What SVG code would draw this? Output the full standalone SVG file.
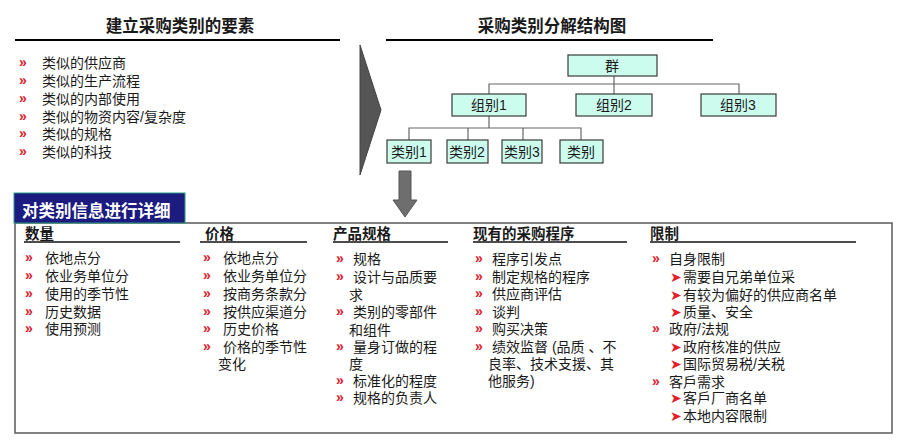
<svg xmlns="http://www.w3.org/2000/svg" width="900" height="444" viewBox="0 0 900 444">
<style>
text{font-family:"Liberation Sans","Noto Sans CJK SC",sans-serif;fill:#1a1a1a}
.t{font-size:16.5px;font-weight:bold;text-anchor:middle}
.i{font-size:14px}
.h{font-size:14.5px;font-weight:bold}
.b{font-family:"Liberation Sans",sans-serif;font-size:14px;font-weight:bold;fill:#e2202c}
.a{font-family:"DejaVu Sans",sans-serif;font-size:14px;fill:#e2202c}
.nb rect{fill:#ccfcee;stroke:#3a3a3a;stroke-width:1.2}
.nb text{font-size:14px;text-anchor:middle}
.rule{stroke:#000;stroke-width:2}
.hl{stroke:#111;stroke-width:1.5}
.con{stroke:#666;stroke-width:1.2;fill:none}
</style>

<g id="left-panel">
<text class="t" x="180" y="32">建立采购类别的要素</text>
<line class="rule" x1="15" y1="40" x2="340" y2="40"/>
<text class="b" x="19" y="67">»</text><text class="i" x="42" y="68">类似的供应商</text>
<text class="b" x="19" y="85">»</text><text class="i" x="42" y="86">类似的生产流程</text>
<text class="b" x="19" y="103">»</text><text class="i" x="42" y="104">类似的内部使用</text>
<text class="b" x="19" y="121">»</text><text class="i" x="42" y="122">类似的物资内容/复杂度</text>
<text class="b" x="19" y="138">»</text><text class="i" x="42" y="139">类似的规格</text>
<text class="b" x="19" y="156">»</text><text class="i" x="42" y="157">类似的科技</text>
</g>

<polygon id="chevron" points="360,45 381,110 360,175" fill="#555" stroke="#444" stroke-width="1"/>

<g id="right-title">
<text class="t" x="552" y="32">采购类别分解结构图</text>
<line class="rule" x1="386" y1="40" x2="713" y2="40"/>
</g>

<g id="connectors">
<polyline class="con" points="614,76 614,94"/>
<polyline class="con" points="489,94 489,84 739,84 739,94"/>
<polyline class="con" points="489,116 489,128"/>
<polyline class="con" points="409,140 409,128 581,128 581,140"/>
<line class="con" x1="468" y1="128" x2="468" y2="140"/>
<line class="con" x1="523" y1="128" x2="523" y2="140"/>
</g>

<g id="node-qun" class="nb"><rect x="568" y="55" width="89" height="21"/><text x="612" y="71">群</text></g>
<g id="node-zu1" class="nb"><rect x="452" y="94" width="74" height="22"/><text x="489" y="110">组别1</text></g>
<g id="node-zu2" class="nb"><rect x="576" y="94" width="76" height="22"/><text x="614" y="110">组别2</text></g>
<g id="node-zu3" class="nb"><rect x="701" y="94" width="75" height="22"/><text x="738" y="110">组别3</text></g>
<g id="node-lei1" class="nb"><rect x="387" y="140" width="44" height="23"/><text x="409" y="157">类别1</text></g>
<g id="node-lei2" class="nb"><rect x="447" y="140" width="41" height="23"/><text x="467" y="157">类别2</text></g>
<g id="node-lei3" class="nb"><rect x="502" y="140" width="40" height="23"/><text x="522" y="157">类别3</text></g>
<g id="node-lei" class="nb"><rect x="560" y="140" width="43" height="23"/><text x="581" y="157">类别</text></g>

<polygon id="down-arrow" points="399,171 411,171 411,200 417,200 405,217 393,200 399,200" fill="#6e6e6e" stroke="#555" stroke-width="1"/>

<g id="detail-box">
<rect x="15" y="223" width="877" height="210" fill="#fff" stroke="#5a5a5a" stroke-width="1.5"/>
<rect x="14" y="193" width="171" height="30" fill="#1c1c80" stroke="#2a9a80" stroke-width="1"/>
<text x="22" y="217" style="font-size:16.5px;font-weight:bold;fill:#fff">对类别信息进行详细</text>
</g>

<g id="col-quantity">
<text class="h" x="25" y="239">数量</text>
<line class="hl" x1="24" y1="242" x2="180" y2="242"/>
<text class="b" x="25" y="262">»</text><text class="i" x="45" y="263">依地点分</text>
<text class="b" x="25" y="280">»</text><text class="i" x="45" y="281">依业务单位分</text>
<text class="b" x="25" y="298">»</text><text class="i" x="45" y="299">使用的季节性</text>
<text class="b" x="25" y="316">»</text><text class="i" x="45" y="317">历史数据</text>
<text class="b" x="25" y="333">»</text><text class="i" x="45" y="334">使用预测</text>
</g>

<g id="col-price">
<text class="h" x="205" y="239">价格</text>
<line class="hl" x1="200" y1="242" x2="307" y2="242"/>
<text class="b" x="203" y="262">»</text><text class="i" x="223" y="263">依地点分</text>
<text class="b" x="203" y="280">»</text><text class="i" x="223" y="281">依业务单位分</text>
<text class="b" x="203" y="298">»</text><text class="i" x="223" y="299">按商务条款分</text>
<text class="b" x="203" y="316">»</text><text class="i" x="223" y="317">按供应渠道分</text>
<text class="b" x="203" y="333">»</text><text class="i" x="223" y="334">历史价格</text>
<text class="b" x="203" y="351">»</text><text class="i" x="223" y="352">价格的季节性</text>
<text class="i" x="218" y="369">变化</text>
</g>

<g id="col-spec">
<text class="h" x="333" y="239">产品规格</text>
<line class="hl" x1="333" y1="242" x2="448" y2="242"/>
<text class="b" x="336" y="263">»</text><text class="i" x="353" y="264">规格</text>
<text class="b" x="336" y="281">»</text><text class="i" x="353" y="282">设计与品质要</text>
<text class="i" x="349" y="300">求</text>
<text class="b" x="336" y="316">»</text><text class="i" x="353" y="317">类别的零部件</text>
<text class="i" x="349" y="335">和组件</text>
<text class="b" x="336" y="351">»</text><text class="i" x="353" y="352">量身订做的程</text>
<text class="i" x="349" y="369">度</text>
<text class="b" x="336" y="385">»</text><text class="i" x="353" y="386">标准化的程度</text>
<text class="b" x="336" y="402">»</text><text class="i" x="353" y="403">规格的负责人</text>
</g>

<g id="col-process">
<text class="h" x="473" y="239">现有的采购程序</text>
<line class="hl" x1="473" y1="242" x2="627" y2="242"/>
<text class="b" x="475" y="263">»</text><text class="i" x="492" y="264">程序引发点</text>
<text class="b" x="475" y="281">»</text><text class="i" x="492" y="282">制定规格的程序</text>
<text class="b" x="475" y="298">»</text><text class="i" x="492" y="299">供应商评估</text>
<text class="b" x="475" y="316">»</text><text class="i" x="492" y="317">谈判</text>
<text class="b" x="475" y="333">»</text><text class="i" x="492" y="334">购买决策</text>
<text class="b" x="475" y="351">»</text><text class="i" x="492" y="352">绩效监督 (品质 、不</text>
<text class="i" x="488" y="369">良率、技术支援、其</text>
<text class="i" x="488" y="386">他服务)</text>
</g>

<g id="col-limits">
<text class="h" x="650" y="239">限制</text>
<line class="hl" x1="650" y1="242" x2="856" y2="242"/>
<text class="b" x="652" y="263">»</text><text class="i" x="669" y="264">自身限制</text>
<text class="a" x="670" y="282">➤</text><text class="i" x="683" y="282">需要自兄弟单位采</text>
<text class="a" x="670" y="300">➤</text><text class="i" x="683" y="300">有较为偏好的供应商名单</text>
<text class="a" x="670" y="317">➤</text><text class="i" x="683" y="317">质量、安全</text>
<text class="b" x="652" y="333">»</text><text class="i" x="669" y="334">政府/法规</text>
<text class="a" x="670" y="352">➤</text><text class="i" x="683" y="352">政府核准的供应</text>
<text class="a" x="670" y="369">➤</text><text class="i" x="683" y="369">国际贸易税/关税</text>
<text class="b" x="652" y="386">»</text><text class="i" x="669" y="387">客戶需求</text>
<text class="a" x="670" y="403">➤</text><text class="i" x="683" y="403">客戶厂商名单</text>
<text class="a" x="670" y="421">➤</text><text class="i" x="683" y="421">本地内容限制</text>
</g>
</svg>
